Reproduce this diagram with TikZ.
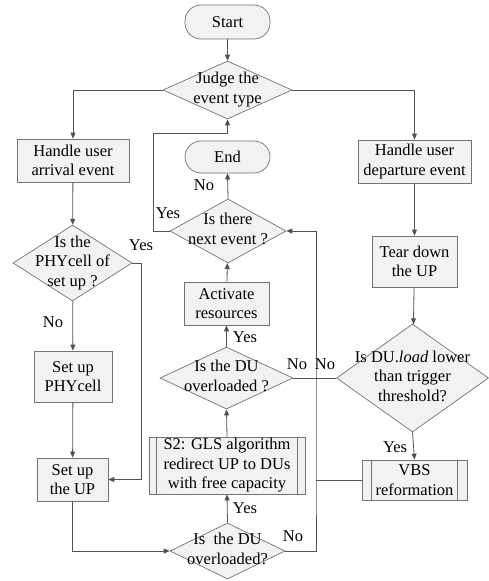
\documentclass[tikz,border=0pt]{standalone}
\usepackage{fontspec}
\setmainfont{Liberation Serif}
\usetikzlibrary{arrows.meta,shapes.geometric}
\newcommand\dtxt[1]{\makebox[0pt]{\smash{\raisebox{-4pt}{\begin{tabular}{@{}c@{}}#1\end{tabular}}}}}
\tikzset{
  every node/.style={font=\fontsize{16.5}{19.5}\selectfont},
  ln/.style={draw=black!68, line width=0.8pt},
  arr/.style={ln, -{Triangle[length=6pt,width=5pt]}},
  box/.style={rectangle, draw=black!55, line width=0.7pt, fill=black!5, inner sep=0pt, align=center},
  term/.style={box, rounded corners=16pt},
  dia/.style={diamond, draw=black!55, line width=0.7pt, fill=black!5, inner sep=0pt},
  lbl/.style={inner sep=0pt}
}
\begin{document}
\begin{tikzpicture}[x=1pt,y=-1pt]
\useasboundingbox (0,0) rectangle (489,581);
\fill[white] (0,0) rectangle (489,581);
% nodes
\node[term, minimum width=85pt, minimum height=34pt] (start) at (227.5,22) {Start};
\node[dia, minimum width=129pt, minimum height=58pt] (judge) at (227.5,90) {\dtxt{Judge the\\event type}};
\node[box, minimum width=112pt, minimum height=43pt] (arrv) at (73,160.5) {Handle user\\arrival event};
\node[box, minimum width=113pt, minimum height=43pt] (dep) at (414.5,161.5) {Handle user\\departure event};
\node[term, minimum width=85pt, minimum height=32pt] (end) at (227.5,157) {End};
\node[dia, minimum width=116pt, minimum height=64pt] (next) at (228,231) {\dtxt{Is there\\next event ?}};
\node[dia, minimum width=119pt, minimum height=76pt] (phy) at (72.5,263) {\dtxt{Is the\\PHYcell of\\set up ?}};
\node[box, minimum width=85pt, minimum height=43pt] (act) at (226.5,303.5) {Activate\\resources};
\node[box, minimum width=85pt, minimum height=51pt] (tear) at (414.5,261.5) {Tear down\\the UP};
\node[dia, minimum width=133pt, minimum height=62pt] (ovl1) at (226.5,378) {\dtxt{Is the DU\\overloaded ?}};
\node[dia, minimum width=152pt, minimum height=108pt] (load) at (412.5,378) {\dtxt{Is DU.\textit{load} lower\\than trigger\\threshold?}};
\node[box, minimum width=78pt, minimum height=51pt] (setphy) at (73,376.5) {Set up\\PHYcell};
\node[box, minimum width=156pt, minimum height=57pt] (s2) at (227,465.5) {S2: GLS algorithm\\redirect UP to DUs\\with free capacity};
\node[box, minimum width=71pt, minimum height=43pt] (setup) at (72.5,479.5) {Set up\\the UP};
\node[box, minimum width=105pt, minimum height=40pt] (vbs) at (414.5,480) {VBS\\reformation};
\node[dia, minimum width=115pt, minimum height=56pt] (ovl2) at (227.5,551) {\dtxt{Is\ \ the DU\\overloaded?}};
% inner lines of predefined processes
\draw[draw=black!55, line width=0.7pt] ([xshift=8pt]s2.north west) -- ([xshift=8pt]s2.south west);
\draw[draw=black!55, line width=0.7pt] ([xshift=-8pt]s2.north east) -- ([xshift=-8pt]s2.south east);
\draw[draw=black!55, line width=0.7pt] ([xshift=10pt]vbs.north west) -- ([xshift=10pt]vbs.south west);
\draw[draw=black!55, line width=0.7pt] ([xshift=-10pt]vbs.north east) -- ([xshift=-10pt]vbs.south east);
% junction coordinates
\coordinate (jx) at (316,480);
\coordinate (lp) at (153,133);
% connectors
\draw[arr] (start) -- (judge);
\draw[arr] (judge.west) -| (arrv.north);
\draw[arr] (judge.east) -| (dep.north);
\draw[arr] (dep) -- (tear);
\draw[arr] (tear) -- (load);
\draw[arr] (load.south) -- (vbs.north);
\draw[ln] (vbs.west) -- (jx);
\draw[arr] (arrv) -- (phy);
\draw[arr] (phy) -- (setphy);
\draw[arr] (setphy) -- (setup);
\draw[arr] (phy.east) -- ++(9,0) |- (setup.east);
\draw[arr] (setup.south) |- (ovl2.west);
\draw[arr] (ovl2.north) -- (s2.south);
\draw[arr] (s2.north) -- (ovl1.south);
\draw[arr] (ovl1.north) -- (act.south);
\draw[arr] (act) -- (next);
\draw[arr] (next.north) -- (end.south);
\draw[arr] (next.west) -| (lp) -| (judge.south);
\draw[arr] (ovl2.east) -| (jx) |- (next.east);
\draw[ln] (ovl1.east) -- (load.west);
% labels
\node[lbl] (l1) at (204,185) {No};
\node[lbl] (l2) at (168,213) {Yes};
\node[lbl] (l3) at (141,245) {Yes};
\node[lbl] (l4) at (53,322) {No};
\node[lbl] (l5) at (245,337) {Yes};
\node[lbl] (l6) at (297,364) {No};
\node[lbl] (l7) at (325,364) {No};
\node[lbl] (l8) at (395,447) {Yes};
\node[lbl] (l9) at (245,508) {Yes};
\node[lbl] (l10) at (293,536) {No};
\end{tikzpicture}
\end{document}
